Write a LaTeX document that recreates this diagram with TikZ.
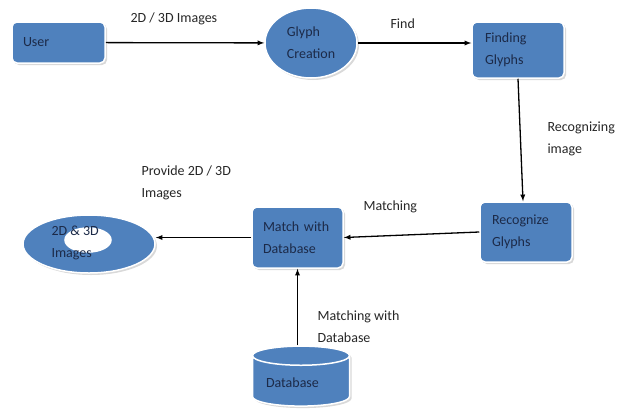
\documentclass[tikz,border=0pt]{standalone}
\usepackage{fontspec}
\setmainfont{Carlito}
\usetikzlibrary{arrows,positioning,shapes,shapes.geometric,shadows}
\usepackage{xcolor}
\definecolor{boxblue}{HTML}{4F81BD}
\definecolor{textnavy}{HTML}{1C2A48}

\begin{document}
\begin{tikzpicture}[x=1pt, y=-1pt,
    every node/.style={font=\fontsize{14}{22}\selectfont},
    block/.style={
        rectangle,
        rounded corners=5pt,
        draw=white,
        line width=1.5pt,
        fill=boxblue,
        text=textnavy,
        align=left,
        drop shadow={shadow xshift=2pt, shadow yshift=-2pt, opacity=0.3}
    },
    label/.style={anchor=west, align=left, text=black!85},
    flow/.style={->, >=latex, line width=1.3pt}
]
    \useasboundingbox (0,0) rectangle (617,418);
    \node (user) [block, minimum height=41pt, inner xsep=11pt, text width=71pt] at (58.5,42.5)
    {
        User
    };
    \node (glyph_creation) [ellipse, draw=white, line width=1.5pt, fill=boxblue, text=textnavy, align=left,
        minimum width=92pt, minimum height=70pt, inner sep=0pt,
        drop shadow={shadow xshift=2pt, shadow yshift=-2pt, opacity=0.3}] at (311,43)
    {
        Glyph\\Creation
    };
    \node (finding_glyphs) [block, minimum height=56pt, inner xsep=13pt, text width=66pt] at (518,50)
    {
        Finding\\Glyphs
    };
    \node (recognize_glyphs) [block, minimum height=60pt, inner xsep=12pt, text width=68pt] at (526,232)
    {
        Recognize\\Glyphs
    };
    \node (match_database) [block, minimum height=61pt, inner xsep=11pt, text width=69pt] at (297.5,237.5)
    {
        Match with\\Database
    };
    \node (images_disk) [ellipse, draw=white, line width=1.5pt, fill=boxblue,
        minimum width=132pt, minimum height=58pt,
        drop shadow={shadow xshift=2pt, shadow yshift=-2pt, opacity=0.3}] at (89,244) {};
    \filldraw[white, fill=white, line width=1.5pt] (88,240) ellipse [x radius=23, y radius=12];
    \node (images_disk_text) [anchor=west, align=left, text=textnavy] at (48,242.5)
    {
        2D \& 3D\\Images
    };
    \node (database) [cylinder, shape border rotate=90, aspect=0.25, draw=white, line width=1.5pt,
        fill=boxblue, text=textnavy, align=left, text width=70pt, minimum width=97pt, minimum height=60pt,
        drop shadow={shadow xshift=2pt, shadow yshift=-2pt, opacity=0.3}] at (301,383)
    {
        Database
    };
    \node (lbl_images) [label] at (127,19) {2D / 3D Images};
    \node (lbl_find) [label] at (387,24) {Find};
    \node (lbl_recognizing) [label] at (544,139) {Recognizing\\image};
    \node (lbl_matching) [label] at (360,207) {Matching};
    \node (lbl_provide) [label] at (138,182.5) {Provide 2D / 3D\\Images};
    \node (lbl_matching_db) [label] at (314,326.5) {Matching with\\Database};
    \draw[flow] (user) to (glyph_creation);
    \draw[flow] (glyph_creation.east) to (finding_glyphs.west |- glyph_creation.east);
    \draw[flow] (finding_glyphs.south) to ([xshift=-3pt]recognize_glyphs.north);
    \draw[flow] (recognize_glyphs.west) to (match_database.east);
    \draw[flow] (match_database.west) to (match_database.west -| images_disk.east);
    \draw[flow] (database.north -| match_database.south) to (match_database.south);
\end{tikzpicture}
\end{document}
